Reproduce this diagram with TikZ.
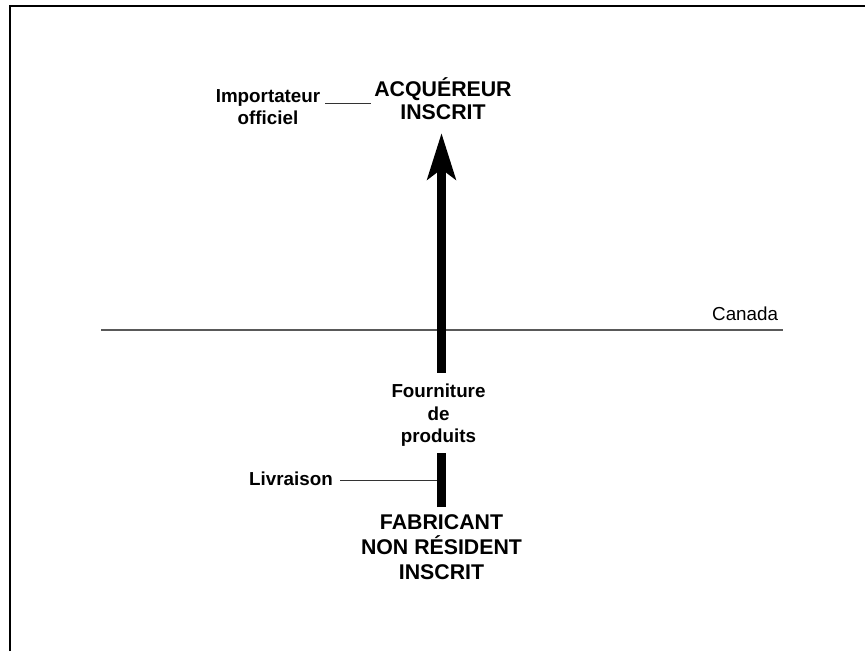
\documentclass[tikz,border=0pt]{standalone}
\usepackage{fontspec}
\setmainfont{Liberation Sans}
\usetikzlibrary{arrows.meta}
\tikzset{
  biglabel/.style={font=\fontsize{21.3}{25.3}\selectfont\bfseries, align=center, inner sep=0pt},
  biglabeltop/.style={font=\fontsize{21.3}{23}\selectfont\bfseries, align=center, inner sep=0pt},
  smalllabel/.style={font=\fontsize{18.8}{22.6}\selectfont\bfseries, align=center, inner sep=0pt},
  plainlabel/.style={font=\fontsize{18.8}{22.6}\selectfont, inner sep=0pt},
  shaft/.style={line width=9pt, black},
  leader/.style={line width=1pt, black!80},
  border/.style={line width=2pt, black},
  canadaline/.style={line width=1.5pt, black!65}
}
\begin{document}
\begin{tikzpicture}[x=1pt,y=-1pt]
\useasboundingbox (0,0) rectangle (865,651);
% frame (open on the right and bottom)
\draw[border] (10,651) -- (10,5.5) -- (865,5.5);

% nodes
\node[biglabeltop, anchor=south] (acq) at (443,120) {ACQUÉREUR\\INSCRIT};
\node[smalllabel, anchor=south] (imp) at (268,125) {Importateur\\officiel};
\node[smalllabel, anchor=south] (fourn) at (438.5,446.7) {Fourniture\\de\\produits};
\node[biglabel, anchor=north] (fab) at (441.5,514) {FABRICANT\\NON RÉSIDENT\\INSCRIT};
\node[smalllabel, anchor=base east] (liv) at (333,485) {Livraison};
\node[plainlabel, anchor=base west] (can) at (712,320) {Canada};

\coordinate (impy) at (0,103);
\coordinate (shaftL) at (437,480);
\coordinate (canL) at (101,330);
\coordinate (canR) at (783,330);

% border line Canada
\draw[canadaline] (canL) -- (canR);

% main arrow
\draw[shaft, -{Stealth[width=28pt,length=46pt,inset=10pt]}, shorten <=11pt, shorten >=13pt]
  (fab.north |- fourn.north) -- (fab.north |- acq.south);
\draw[shaft, shorten <=7pt, shorten >=6pt] (fab.north) -- (fab.north |- fourn.south);

% leaders
\draw[leader] ([xshift=5pt]imp.east |- impy) -- ([xshift=-3pt]acq.west |- impy);
\draw[leader] ([xshift=7pt]liv.east |- shaftL) -- (shaftL);
\end{tikzpicture}
\end{document}
